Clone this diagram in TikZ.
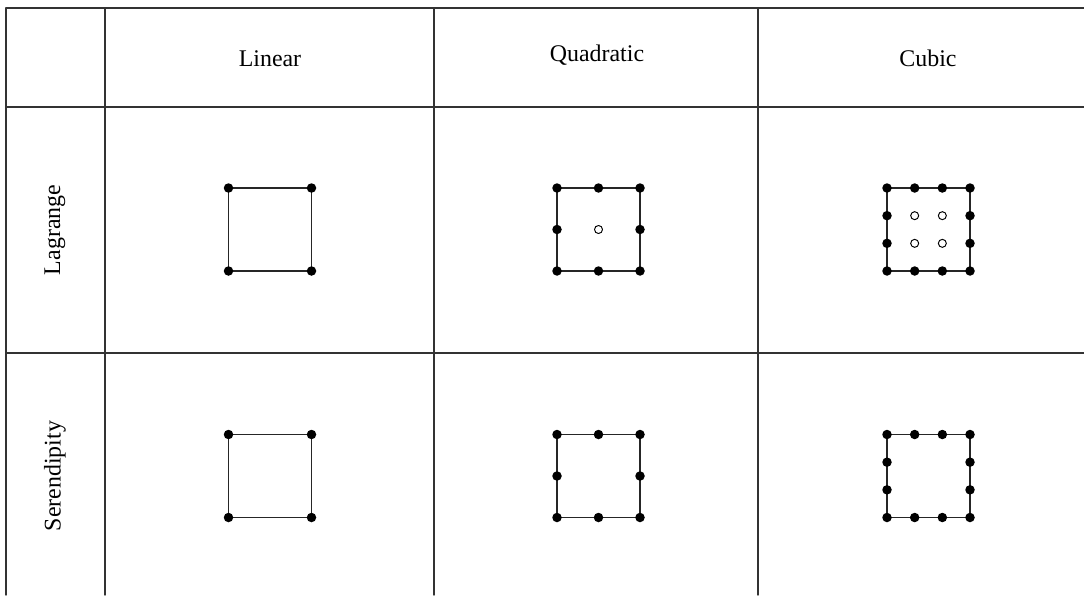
\documentclass[tikz,border=0pt]{standalone}
\usepackage{fontspec}
\setmainfont{Liberation Serif}
\begin{document}
\begin{tikzpicture}[x=0.02cm,y=-0.02cm,line cap=round,line join=round,font=\fontsize{13.6}{16}\selectfont,
	grid/.style={draw=black!80,line width=0.8pt},
	edge/.style={draw=black!85,line width=0.7pt},
	full/.style={fill=black},
	hollow/.style={fill=white,draw=black,line width=0.55pt}]
	\useasboundingbox (0,0) rectangle (1084,595);
	% table lines
	\draw[grid] (6,595)--(6,8)--(1084,8)
	(6,107)--(1084,107)
	(6,353)--(1084,353);
	\foreach \x in {105,434,758}{
		\draw[grid] (\x,8)--(\x,595);
	}
	% headers
	\node[anchor=base] (lin) at (270,66) {Linear};
	\node[anchor=base] (quad) at (597,61) {Quadratic};
	\node[anchor=base] (cub) at (928,66) {Cubic};
	\node[rotate=90] (lag) at (55,230) {Lagrange};
	\node[rotate=90] (ser) at (55,476) {Serendipity};
	% elements
	\foreach \cx/\n in {270/1,598.5/2,928.5/3}{
		\foreach \cy/\inner in {229.5/1,476/0}{
			\begin{scope}[shift={(\cx,\cy)}]
				\draw[edge] (-41.5,-41.5) rectangle (41.5,41.5);
				\foreach \i in {0,...,\n}{
					\foreach \j in {0,...,\n}{
						\pgfmathtruncatemacro\onedge{(\i==0)||(\i==\n)||(\j==0)||(\j==\n)}
						\ifnum\onedge=1
							\fill[full] ({-41.5+\i*83/\n},{-41.5+\j*83/\n}) circle (0.095cm);
						\else
							\ifnum\inner=1
								\filldraw[hollow] ({-41.5+\i*83/\n},{-41.5+\j*83/\n}) circle (0.08cm);
							\fi
						\fi
					}
				}
			\end{scope}
		}
	}
\end{tikzpicture}
\end{document}
